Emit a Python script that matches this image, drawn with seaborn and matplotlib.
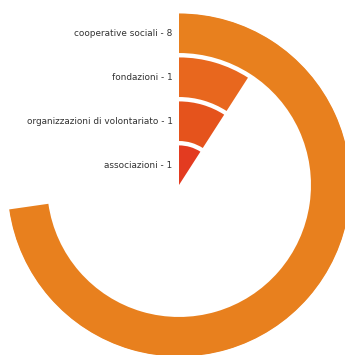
import numpy as np
import matplotlib
matplotlib.use("Agg")
import matplotlib.pyplot as plt
import seaborn as sns

# Categories from the innermost ring outwards
categories = ["associazioni", "organizzazioni di volontariato", "fondazioni", "cooperative sociali"]
values = [1, 1, 1, 8]
colors = ["#E33B20", "#E5531C", "#E8671E", "#E8801E"]

sns.set_theme(style="white")
plt.rcParams["font.family"] = ["DejaVu Sans"]

total = sum(values)
angles = [v / total * 2 * np.pi for v in values]
rings = np.arange(len(categories))

fig = plt.figure(figsize=(3.45, 3.55), dpi=100)
ax = fig.add_axes([7 / 345, -2 / 355, 344 / 345, 344 / 355], projection="polar")
ax.set_theta_offset(np.pi / 2)
ax.set_theta_direction(-1)

ax.bar(np.zeros(len(values)), 0.9, width=angles, bottom=rings,
       align="edge", color=colors, edgecolor="none", linewidth=0)

for r, cat, v in zip(rings, categories, values):
    ax.annotate(f"{cat} - {v}", xy=(0, r + 0.45), xytext=(-4.5, 0),
                textcoords="offset points", ha="right", va="center",
                fontsize=6.4, color="#333333", annotation_clip=False)

ax.set_ylim(0, 3.91)
ax.set_xticks([])
ax.set_yticks([])
ax.grid(False)
ax.spines["polar"].set_visible(False)
ax.set_facecolor("none")
fig.patch.set_facecolor("white")

fig.savefig("out.png", dpi=100)
